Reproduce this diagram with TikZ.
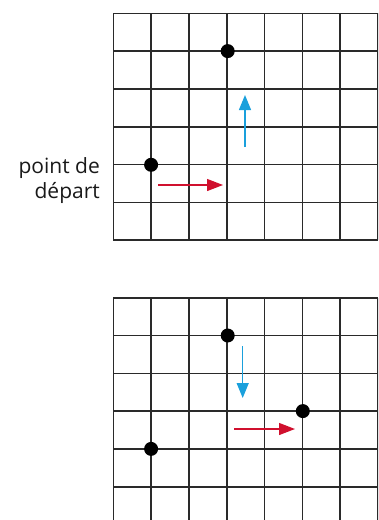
\documentclass[tikz,border=0pt]{standalone}
\usepackage{fontspec}
\setmainfont{Open Sans}
\usetikzlibrary{arrows.meta}
\definecolor{gridc}{HTML}{2A2A2A}
\definecolor{arrred}{HTML}{D0102E}
\definecolor{arrblue}{HTML}{1AA0DC}
\tikzset{
  gridline/.style={draw=gridc, line width=1.6pt},
  dot/.style={circle, fill=black, inner sep=0pt, minimum size=14pt},
  redarrow/.style={draw=arrred, line width=1.3pt, -{Triangle[length=16pt,width=12pt]}},
  bluearrow/.style={draw=arrblue, line width=1.3pt, -{Triangle[length=15pt,width=12pt]}},
  lbl/.style={anchor=base east, inner sep=0pt, font=\fontsize{21}{25}\selectfont, text=black!90}
}
\begin{document}
\begin{tikzpicture}[x=1pt,y=-1pt]
\useasboundingbox (0,0) rectangle (378,520);
\begin{scope}
\clip (0,0) rectangle (378,520);
% top grid
\foreach \i in {0,...,7} {
  \draw[gridline] ({113.3+37.81*\i},13.3) -- ({113.3+37.81*\i},240.3);
}
\foreach \j in {0,...,6} {
  \draw[gridline] (113.3,{13.3+37.83*\j}) -- (378,{13.3+37.83*\j});
}
% bottom grid
\foreach \i in {0,...,7} {
  \draw[gridline] ({113.3+37.81*\i},297.7) -- ({113.3+37.81*\i},530);
}
\foreach \j in {0,...,6} {
  \draw[gridline] (113.3,{297.7+37.8*\j}) -- (378,{297.7+37.8*\j});
}
\end{scope}
% top dots
\node[dot] (t1) at (227.7,51.1) {};
\node[dot] (t2) at (151.1,164.8) {};
% top arrows
\coordinate (tbs) at (245,147);
\coordinate (tbe) at (245,95);
\draw[bluearrow] (tbs) -- (tbe);
\coordinate (trs) at (158,185);
\coordinate (tre) at (223,185);
\draw[redarrow] (trs) -- (tre);
% label
\node[lbl] (l1) at (100,173.3) {point de};
\node[lbl] (l2) at (100,198.3) {départ};
% bottom dots
\node[dot] (b1) at (227.7,335.5) {};
\node[dot] (b2) at (302.8,411.1) {};
\node[dot] (b3) at (151.1,448.9) {};
% bottom arrows
\coordinate (bbs) at (242.7,346);
\coordinate (bbe) at (242.7,398);
\draw[bluearrow] (bbs) -- (bbe);
\coordinate (brs) at (234.3,429);
\coordinate (bre) at (295,429);
\draw[redarrow] (brs) -- (bre);
\end{tikzpicture}
\end{document}
